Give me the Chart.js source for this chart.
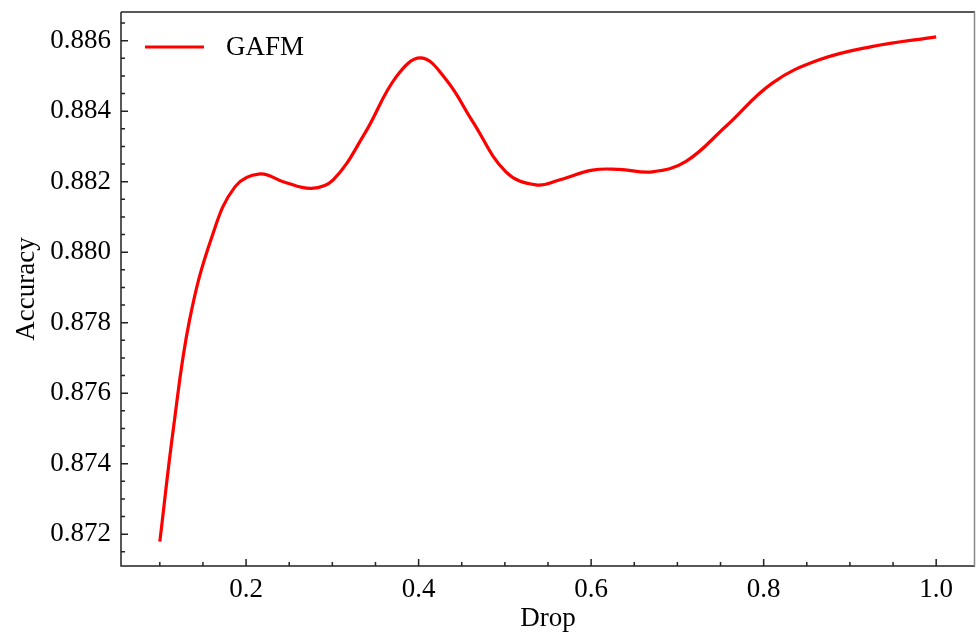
<!DOCTYPE html>
<html>
<head>
<meta charset="utf-8">
<script src="https://cdn.jsdelivr.net/npm/chart.js@4"></script>
<style>
  html, body { margin: 0; padding: 0; background: #fff; }
  #wrap { width: 976px; height: 637px; }
</style>
</head>
<body>
<div id="wrap"><canvas id="c"></canvas></div>
<script>
'use strict';

/* ─── Data ─── */
const dropValues = [
  0.1000, 0.1160, 0.1345, 0.1604, 0.1873, 0.2162, 0.2430, 0.2756, 0.3010, 0.3376,
  0.3742, 0.4030, 0.4320, 0.4629, 0.5012, 0.5360, 0.5630, 0.6015, 0.6324, 0.6709,
  0.7095, 0.7557, 0.8096, 0.8636, 0.9250, 1.0000
];
const accuracyValues = [
  0.87179, 0.87505, 0.87808, 0.88044, 0.88186, 0.88222, 0.88200, 0.88181, 0.88205, 0.88337,
  0.88498, 0.88551, 0.88489, 0.88370, 0.88228, 0.88191, 0.88205, 0.88233, 0.88235, 0.88228,
  0.88257, 0.88356, 0.88479, 0.88545, 0.88583, 0.88611
];
const seriesName = 'GAFM';

const xTicks = [0.2, 0.4, 0.6, 0.8, 1.0];
const xMinorTicks = [0.1, 0.15, 0.25, 0.3, 0.35, 0.45, 0.5, 0.55, 0.65, 0.7, 0.75, 0.85, 0.9, 0.95];
const yTicks = [0.872, 0.874, 0.876, 0.878, 0.880, 0.882, 0.884, 0.886];
const yMinorTicks = [
  0.8715, 0.8725, 0.873, 0.8735, 0.8745, 0.875, 0.8755, 0.8765, 0.877, 0.8775,
  0.8785, 0.879, 0.8795, 0.8805, 0.881, 0.8815, 0.8825, 0.883, 0.8835,
  0.8845, 0.885, 0.8855, 0.8865
];

const FONT = "'Liberation Serif', 'Times New Roman', serif";
const points = dropValues.map((x, i) => ({ x, y: accuracyValues[i] }));

/* ─── Frame, inward ticks and legend (matplotlib look) ─── */
const framePlugin = {
  id: 'frame',
  afterDraw(chart) {
    const { ctx, chartArea: a, scales } = chart;
    ctx.save();
    ctx.lineWidth = 1.5;
    ctx.strokeStyle = '#222';
    ctx.beginPath();
    ctx.moveTo(a.left, a.top); ctx.lineTo(a.right, a.top);
    ctx.moveTo(a.left, a.top); ctx.lineTo(a.left, a.bottom);
    ctx.lineTo(a.right, a.bottom);
    ctx.stroke();
    ctx.strokeStyle = '#888';
    ctx.beginPath();
    ctx.moveTo(a.right - 0.5, a.top); ctx.lineTo(a.right - 0.5, a.bottom);
    ctx.stroke();

    ctx.strokeStyle = '#222';
    ctx.beginPath();
    xTicks.forEach(v => { const px = scales.x.getPixelForValue(v); ctx.moveTo(px, a.bottom); ctx.lineTo(px, a.bottom - 7); });
    xMinorTicks.forEach(v => { const px = scales.x.getPixelForValue(v); ctx.moveTo(px, a.bottom); ctx.lineTo(px, a.bottom - 4); });
    yTicks.forEach(v => { const py = scales.y.getPixelForValue(v); ctx.moveTo(a.left, py); ctx.lineTo(a.left + 7, py); });
    yMinorTicks.forEach(v => { const py = scales.y.getPixelForValue(v); ctx.moveTo(a.left, py); ctx.lineTo(a.left + 4, py); });
    ctx.stroke();

    // legend, upper left inside the axes
    const ly = a.top + 35;
    ctx.strokeStyle = '#ff0000';
    ctx.lineWidth = 3;
    ctx.beginPath();
    ctx.moveTo(a.left + 24, ly); ctx.lineTo(a.left + 83, ly);
    ctx.stroke();
    ctx.fillStyle = '#000';
    ctx.font = '27px ' + FONT;
    ctx.textAlign = 'left';
    ctx.textBaseline = 'middle';
    ctx.fillText(seriesName, a.left + 105, ly + 1);
    ctx.restore();
  }
};

new Chart(document.getElementById('c'), {
  type: 'line',
  data: {
    datasets: [{
      label: seriesName,
      data: points,
      borderColor: '#ff0000',
      borderWidth: 3.2,
      pointRadius: 0,
      tension: 0.4,
      fill: false
    }]
  },
  options: {
    responsive: true,
    maintainAspectRatio: false,
    animation: false,
    layout: { padding: { top: 12, right: 1, left: 0, bottom: 0 } },
    plugins: { legend: { display: false }, tooltip: { enabled: false } },
    scales: {
      x: {
        type: 'linear',
        min: 0.055,
        max: 1.045,
        afterBuildTicks: s => { s.ticks = xTicks.map(v => ({ value: v })); },
        afterFit: s => { s.height = 71; s.paddingLeft = 0; s.paddingRight = 0; },
        grid: { display: false, drawTicks: false },
        border: { display: false },
        ticks: {
          padding: 8,
          color: '#000',
          font: { family: FONT, size: 27 },
          callback: v => Number(v).toFixed(1)
        },
        title: {
          display: true,
          text: 'Drop',
          color: '#000',
          font: { family: FONT, size: 27 },
          padding: { top: 0, bottom: 2 }
        }
      },
      y: {
        type: 'linear',
        min: 0.871098,
        max: 0.886814,
        afterBuildTicks: s => { s.ticks = yTicks.map(v => ({ value: v })); },
        afterFit: s => { s.width = 121; s.paddingTop = 0; s.paddingBottom = 0; },
        grid: { display: false, drawTicks: false },
        border: { display: false },
        ticks: {
          padding: 10,
          color: '#000',
          font: { family: FONT, size: 27 },
          callback: v => Number(v).toFixed(3)
        },
        title: {
          display: true,
          text: 'Accuracy',
          color: '#000',
          font: { family: FONT, size: 27 },
          padding: { top: 11, bottom: 0 }
        }
      }
    }
  },
  plugins: [framePlugin]
});
</script>
</body>
</html>
